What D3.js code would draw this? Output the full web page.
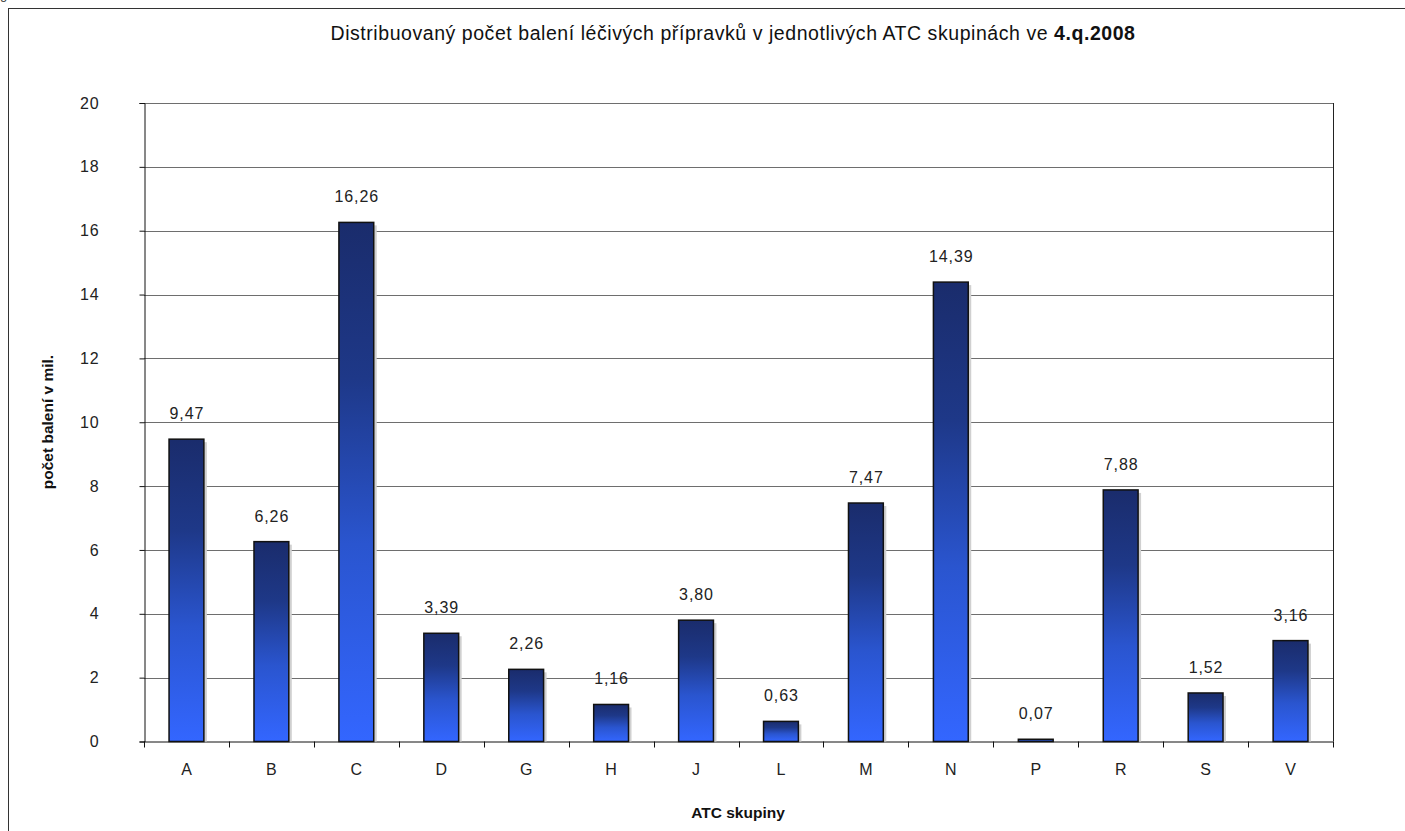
<!DOCTYPE html>
<html><head><meta charset="utf-8">
<script src="https://cdn.jsdelivr.net/npm/d3@7/dist/d3.min.js"></script>
<style>body{margin:0;background:#fff;} svg{display:block;font-family:"Liberation Sans",Arial,Helvetica,sans-serif;}</style>
</head><body>
<svg id="chart" width="1405" height="831"></svg>
<script>
const categories = ["A","B","C","D","G","H","J","L","M","N","P","R","S","V"];
const values = [9.47,6.26,16.26,3.39,2.26,1.16,3.80,0.63,7.47,14.39,0.07,7.88,1.52,3.16];
const yTicks = [0,2,4,6,8,10,12,14,16,18,20];
const titleMain = "Distribuovaný počet balení léčivých přípravků v jednotlivých ATC skupinách ve ";
const titleBold = "4.q.2008";
const yTitle = "počet balení v mil.";
const xTitle = "ATC skupiny";

const svg = d3.select("#chart");
const W = 1405, H = 831;
const m = {left:144, top:103, right:1333, bottom:741.5};
const FS = 16, LS = 0.9;

// stray glyph at top-left
svg.append("text").attr("x",0).attr("y",-1).attr("font-size",13).attr("fill","#333").text("g");

// outer frame
svg.append("rect").attr("x",8.5).attr("y",8.5).attr("width",W).attr("height",H)
  .attr("fill","none").attr("stroke","#333").attr("stroke-width",1);

const defs = svg.append("defs");
const grad = defs.append("linearGradient").attr("id","barGrad").attr("x1",0).attr("y1",0).attr("x2",0).attr("y2",1);
[[0,"#1a2c6c"],[0.3,"#1e3888"],[0.62,"#2a55cf"],[1,"#3366ff"]].forEach(([o,c])=>
  grad.append("stop").attr("offset",o).attr("stop-color",c));

const x = d3.scaleBand().domain(categories).range([m.left,m.right]).paddingInner(0.59).paddingOuter(0.295);
const y = d3.scaleLinear().domain([0,20]).range([m.bottom,m.top]);

// gridlines
svg.append("g").selectAll("line").data(yTicks.filter(d=>d>0)).join("line")
  .attr("x1",m.left).attr("x2",m.right)
  .attr("y1",d=>Math.round(y(d))+0.5).attr("y2",d=>Math.round(y(d))+0.5)
  .attr("stroke","#6e6e6e").attr("stroke-width",1);

// right border
svg.append("line").attr("x1",m.right+0.5).attr("x2",m.right+0.5).attr("y1",m.top).attr("y2",m.bottom)
  .attr("stroke","#222").attr("stroke-width",1);

// y axis
const yAxis = d3.axisLeft(y).tickValues(yTicks).tickSize(5).tickPadding(40).tickFormat(d3.format("d"));
const gy = svg.append("g").attr("transform",`translate(${m.left+0.5},0)`).call(yAxis);
gy.select(".domain").attr("stroke","#111");
gy.selectAll(".tick line").attr("stroke","#111");
gy.selectAll("text").attr("font-size",FS).attr("letter-spacing",LS).attr("fill","#222")
  .attr("font-family","Liberation Sans, Arial, sans-serif");

// x axis
const xAxis = d3.axisBottom(x).tickSize(0).tickPadding(22);
const gx = svg.append("g").attr("transform",`translate(0,${m.bottom})`).call(xAxis);
gx.select(".domain").attr("stroke","#111").attr("d",`M${m.left},0.5H${m.right}`);
gx.selectAll("text").attr("font-size",FS).attr("fill","#222")
  .attr("font-family","Liberation Sans, Arial, sans-serif");
// band boundary ticks
const bounds = categories.map(c=>x(c)-x.step()*x.paddingInner()/2);
bounds.push(m.right);
bounds[0] = m.left;
svg.append("g").selectAll("line").data(bounds).join("line")
  .attr("x1",d=>Math.round(d)+0.5).attr("x2",d=>Math.round(d)+0.5)
  .attr("y1",m.bottom).attr("y2",m.bottom+6).attr("stroke","#111");

const data = categories.map((c,i)=>({c, v:values[i]}));

// shadows
svg.append("g").selectAll("rect").data(data).join("rect")
  .attr("x",d=>x(d.c)+3).attr("y",d=>y(d.v)+3)
  .attr("width",x.bandwidth()).attr("height",d=>m.bottom-y(d.v)-3)
  .attr("fill","#d0d0d0");

// bars
svg.append("g").selectAll("rect").data(data).join("rect")
  .attr("x",d=>x(d.c)).attr("y",d=>y(d.v))
  .attr("width",x.bandwidth()).attr("height",d=>m.bottom-y(d.v))
  .attr("fill","url(#barGrad)").attr("stroke","#111").attr("stroke-width",1.5);

// value labels
const fmt = v => d3.format(".2f")(v).replace(".",",");
svg.append("g").selectAll("text").data(data).join("text")
  .attr("x",d=>x(d.c)+x.bandwidth()/2+LS/2).attr("y",d=>y(d.v)-20)
  .attr("text-anchor","middle").attr("font-size",FS).attr("letter-spacing",LS).attr("fill","#222")
  .text(d=>fmt(d.v));

// title
const t = svg.append("text").attr("x",733).attr("y",40).attr("text-anchor","middle")
  .attr("font-size",19.5).attr("fill","#111");
t.append("tspan").text(titleMain);
t.append("tspan").attr("font-weight","bold").text(titleBold);
const natural = t.node().getComputedTextLength();
const nChars = (titleMain+titleBold).length;
t.attr("letter-spacing", Math.max(0,(805-natural)/nChars));

// axis titles
svg.append("text").attr("transform",`translate(53,422) rotate(-90)`).attr("text-anchor","middle")
  .attr("font-size",15.5).attr("font-weight","bold").attr("fill","#111").text(yTitle);
svg.append("text").attr("x",738).attr("y",818).attr("text-anchor","middle")
  .attr("font-size",15.5).attr("font-weight","bold").attr("fill","#111").text(xTitle);
</script>
</body></html>
